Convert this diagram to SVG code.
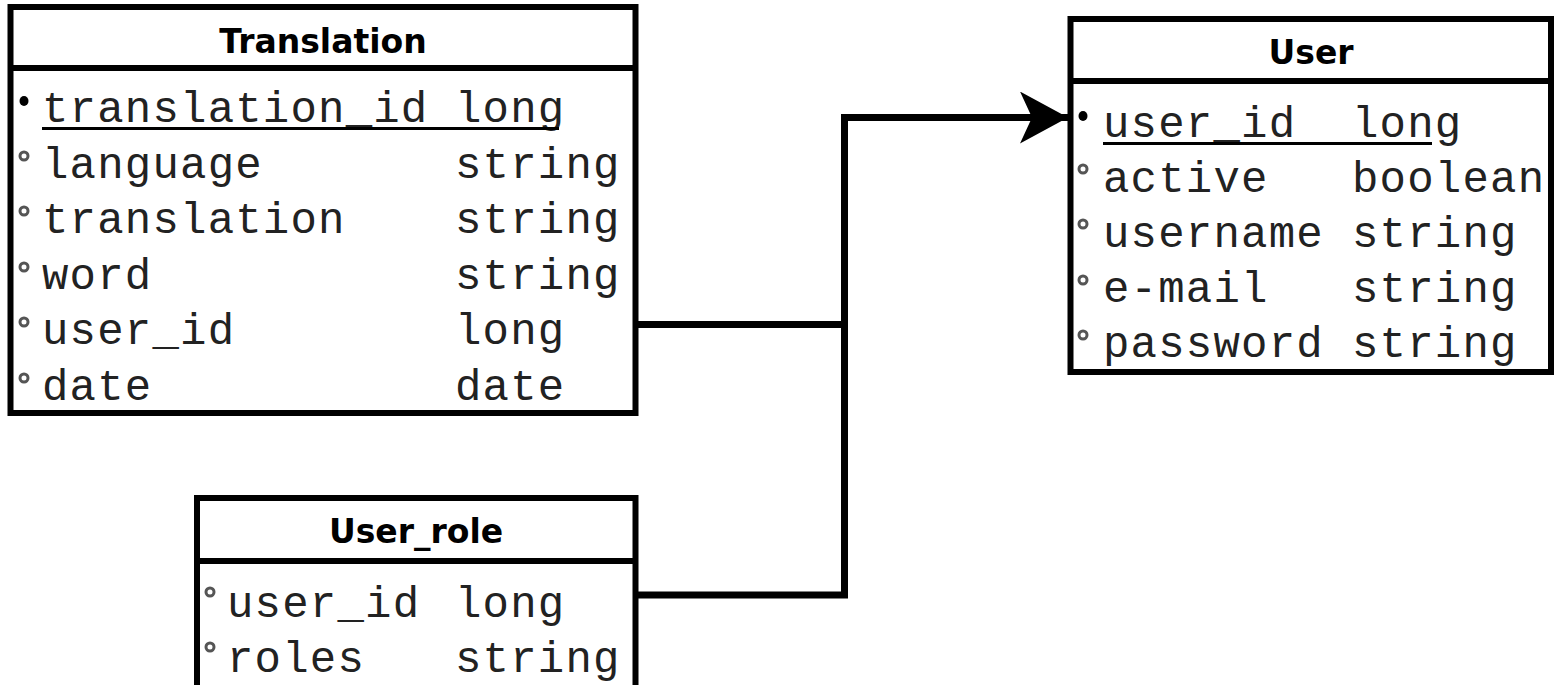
<svg xmlns="http://www.w3.org/2000/svg" width="1555" height="685" viewBox="0 0 1555 685">
  <defs>
    <style>
      .box { fill: #fff; stroke: #000; stroke-width: 6; }
      .sep { stroke: #000; stroke-width: 6; }
      .title { font-family: "DejaVu Sans", "Liberation Sans", sans-serif; font-weight: bold; font-size: 33px; fill: #000; text-anchor: middle; }
      .f { font-family: "Liberation Mono", "DejaVu Sans Mono", monospace; font-size: 44px; letter-spacing: 1.2px; fill: #222; }
      .ul { stroke: #000; stroke-width: 3; }
      .pk { fill: #000; }
      .att { fill: none; stroke: #555; stroke-width: 3; }
      .conn { fill: none; stroke: #000; stroke-width: 7; stroke-linejoin: miter; }
    </style>
    <marker id="arrow" markerUnits="userSpaceOnUse" viewBox="0 0 48 52" refX="48" refY="26" markerWidth="48" markerHeight="52" orient="auto">
      <path d="M0,0 L48,26 L0,52 L12,26 Z" fill="#000"/>
    </marker>
  </defs>
  <rect width="1555" height="685" fill="#fff"/>

  <g id="connectors">
    <path class="conn" d="M635.5,324.5 H844.5"/>
    <path class="conn" d="M635.5,595 H844.5 V117.5 H1068" marker-end="url(#arrow)"/>
  </g>

  <g id="Translation">
    <rect class="box" x="10.5" y="7" width="625" height="406"/>
    <line class="sep" x1="10.5" y1="68" x2="635.5" y2="68"/>
    <text class="title" x="323" y="53">Translation</text>
    <ellipse class="pk" cx="24" cy="101" rx="4.5" ry="5"/>
    <text class="f" x="42" y="122">translation_id</text>
    <text class="f" x="455" y="122">long</text>
    <line class="ul" x1="42" y1="128.5" x2="559" y2="128.5"/>
    <circle class="att" cx="24" cy="156" r="4"/>
    <text class="f" x="42" y="178">language</text>
    <text class="f" x="455" y="178">string</text>
    <circle class="att" cx="24" cy="211" r="4"/>
    <text class="f" x="42" y="233">translation</text>
    <text class="f" x="455" y="233">string</text>
    <circle class="att" cx="24" cy="267" r="4"/>
    <text class="f" x="42" y="289">word</text>
    <text class="f" x="455" y="289">string</text>
    <circle class="att" cx="24" cy="322" r="4"/>
    <text class="f" x="42" y="344">user_id</text>
    <text class="f" x="455" y="344">long</text>
    <circle class="att" cx="24" cy="378" r="4"/>
    <text class="f" x="42" y="400">date</text>
    <text class="f" x="455" y="400">date</text>
  </g>

  <g id="User">
    <rect class="box" x="1070.5" y="19" width="480.5" height="353"/>
    <line class="sep" x1="1070.5" y1="81" x2="1551" y2="81"/>
    <text class="title" x="1311" y="64">User</text>
    <ellipse class="pk" cx="1083" cy="116" rx="4.5" ry="5"/>
    <text class="f" x="1103" y="137">user_id</text>
    <text class="f" x="1352" y="137">long</text>
    <line class="ul" x1="1103" y1="143.5" x2="1432" y2="143.5"/>
    <circle class="att" cx="1083" cy="169" r="4"/>
    <text class="f" x="1103" y="192">active</text>
    <text class="f" x="1352" y="192">boolean</text>
    <circle class="att" cx="1083" cy="224" r="4"/>
    <text class="f" x="1103" y="247">username</text>
    <text class="f" x="1352" y="247">string</text>
    <circle class="att" cx="1083" cy="280" r="4"/>
    <text class="f" x="1103" y="302">e-mail</text>
    <text class="f" x="1352" y="302">string</text>
    <circle class="att" cx="1083" cy="335" r="4"/>
    <text class="f" x="1103" y="357">password</text>
    <text class="f" x="1352" y="357">string</text>
  </g>

  <g id="User_role">
    <rect class="box" x="197" y="498" width="438.5" height="195"/>
    <line class="sep" x1="197" y1="561" x2="635.5" y2="561"/>
    <text class="title" x="416" y="543">User_role</text>
    <circle class="att" cx="210" cy="592" r="4"/>
    <text class="f" x="227" y="617">user_id</text>
    <text class="f" x="455" y="617">long</text>
    <circle class="att" cx="210" cy="647" r="4"/>
    <text class="f" x="227" y="672">roles</text>
    <text class="f" x="455" y="672">string</text>
  </g>
</svg>
